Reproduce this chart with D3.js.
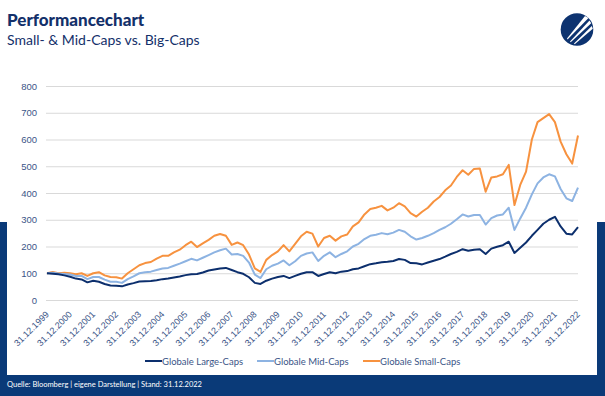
<!DOCTYPE html>
<html>
<head>
<meta charset="utf-8">
<script src="https://d3js.org/d3.v7.min.js"></script>
<style type="text/css">
    body { margin: 0; background: #fff; }
    svg { display: block; font-family: Lato, "Noto Sans", sans-serif; }
    .grid line { stroke: #d9d9d9; stroke-width: 1; }
    .axis text { fill: #3b5587; }
    .line { fill: none; stroke-width: 2px; stroke-linejoin: round; }
</style>
</head>
<body>
<svg width="605" height="396"></svg>
<script>
// tick labels on the x axis (31.12. of each year)
var tickLabels = ["31.12.1999", "31.12.2000", "31.12.2001", "31.12.2002", "31.12.2003",
    "31.12.2004", "31.12.2005", "31.12.2006", "31.12.2007", "31.12.2008", "31.12.2009",
    "31.12.2010", "31.12.2011", "31.12.2012", "31.12.2013", "31.12.2014", "31.12.2015",
    "31.12.2016", "31.12.2017", "31.12.2018", "31.12.2019", "31.12.2020", "31.12.2021",
    "31.12.2022"];
var yTicks = [0, 100, 200, 300, 400, 500, 600, 700, 800];
var seriesNames = ["Globale Large-Caps", "Globale Mid-Caps", "Globale Small-Caps"];
var seriesColors = ["#0c2f6d", "#8db3e2", "#f7923f"];

// quarter-end values, starting 31.12.1999 (=100)
var largeCaps = [100,
    98, 96, 92, 87,
    80, 77, 66, 72,
    68, 60, 54, 53,
    51, 58, 63, 69,
    70, 71, 74, 78,
    80, 84, 88, 93,
    96, 97, 103, 110,
    114, 118, 120, 112,
    104, 98, 85, 64,
    60, 72, 80, 86,
    90, 82, 90, 98,
    104, 104, 90, 97,
    104, 100, 106, 108,
    115, 118, 126, 134,
    137, 141, 143, 146,
    153, 150, 138, 137,
    133, 140, 147, 153,
    162, 172, 180, 190,
    184, 188, 190, 172,
    192, 199, 205, 218,
    176, 195, 215, 240,
    262, 285, 300, 311,
    275, 248, 245, 272];

var midCaps = [100,
    102, 99, 97, 95,
    90, 90, 78, 86,
    86, 76, 68, 68,
    64, 78, 88, 100,
    104, 106, 112, 118,
    120, 128, 136, 145,
    154, 148, 158, 168,
    178, 186, 192, 170,
    172, 165, 140, 95,
    82, 115, 128, 136,
    148, 130, 145, 165,
    174, 178, 146, 165,
    178, 160, 172, 182,
    200, 210, 228, 240,
    244, 250, 246, 252,
    262, 255, 238, 226,
    232, 240, 250, 262,
    272, 285, 302, 320,
    312, 318, 318, 282,
    306, 316, 320, 345,
    262, 305, 345, 395,
    436, 458, 470, 462,
    415, 380, 370, 420];

var smallCaps = [100,
    105, 100, 102, 100,
    96, 100, 90, 100,
    104, 92, 86, 85,
    80, 100, 115, 130,
    138, 142, 155, 165,
    165, 178, 188, 205,
    218, 198, 212, 225,
    240, 247, 240, 206,
    215, 205, 170, 118,
    105, 150, 168, 182,
    205, 182, 210, 238,
    255, 248, 200, 232,
    240, 222, 238, 245,
    275, 290, 320, 340,
    345, 352, 335, 345,
    362, 350, 325, 312,
    330, 345, 368, 385,
    410, 428, 460, 485,
    468, 490, 492, 405,
    458, 462, 470, 505,
    355, 430, 480, 600,
    665, 680, 695, 665,
    592, 545, 510, 615];

var svg = d3.select("svg");
var navy = "#0a3a78";

// frame: blue side strips and footer band
svg.append("rect").attr("x", 0).attr("y", 222).attr("width", 7).attr("height", 174).attr("fill", navy);
svg.append("rect").attr("x", 597).attr("y", 222).attr("width", 8).attr("height", 174).attr("fill", navy);
svg.append("rect").attr("x", 0).attr("y", 375).attr("width", 605).attr("height", 21).attr("fill", navy);

svg.append("text").attr("x", 7).attr("y", 387)
    .attr("fill", "#fff").style("font-size", "7.5px")
    .text("Quelle: Bloomberg | eigene Darstellung | Stand: 31.12.2022");

// title
svg.append("text").attr("x", 7).attr("y", 26)
    .attr("fill", "#13306a").style("font-size", "17px").style("font-weight", "900")
    .text("Performancechart");
svg.append("text").attr("x", 7).attr("y", 45)
    .attr("fill", "#13306a").style("font-size", "14px")
    .text("Small- & Mid-Caps vs. Big-Caps");

// logo
var logo = svg.append("g").attr("transform", "translate(577,29.5)");
logo.append("circle").attr("r", 16.3).attr("fill", "#0d3370");
logo.append("path").attr("d", "M-10,9 L8,-13.5 L11.5,-11.5 L-9.5,10 Z").attr("fill", "#fff");
logo.append("path").attr("d", "M-7,12 L12.5,-9 L14.2,-6.2 L-6.3,12.8 Z").attr("fill", "#fff");
logo.append("path").attr("d", "M-3,14 L14.8,-3.5 L15.8,-0.8 L-2.3,14.7 Z").attr("fill", "#fff");

// plot
var parseDate = d3.timeParse("%d.%m.%Y");
var tickDates = tickLabels.map(parseDate);
var dates = largeCaps.map(function(d, i) {
    return new Date(1999, 12 + 3 * i, 0);
});

var xScale = d3.scaleTime().domain([tickDates[0], tickDates[tickDates.length - 1]]).range([47, 578]);
var yScale = d3.scaleLinear().domain([0, 800]).range([300, 86]);

svg.append("g")
    .attr("class", "grid axis")
    .attr("transform", "translate(46,0)")
    .call(d3.axisLeft(yScale).tickValues(yTicks).tickSize(-532).tickPadding(9))
    .call(g => g.select(".domain").remove())
    .selectAll("text").style("font-size", "9.5px");

var xAxis = svg.append("g")
    .attr("class", "axis")
    .attr("transform", "translate(0,300)")
    .call(d3.axisBottom(xScale).tickValues(tickDates).tickSize(0)
        .tickFormat(function(d, i) { return tickLabels[i]; }));
xAxis.select(".domain").remove();
xAxis.selectAll("text")
    .attr("y", 0).attr("dy", 0)
    .attr("text-anchor", "end")
    .attr("transform", "translate(2,15) rotate(-45)")
    .style("font-size", "9px");

var allSeries = [largeCaps, midCaps, smallCaps];
var line = d3.line()
    .x(function(d, i) { return xScale(dates[i]); })
    .y(function(d) { return yScale(d); });

// draw small first so large sits on top like the original
[2, 1, 0].forEach(function(k) {
    svg.append("path")
        .datum(allSeries[k])
        .attr("class", "line")
        .attr("stroke", seriesColors[k])
        .attr("d", line);
});

// legend
var legendX = [145, 257, 363];
var legend = svg.append("g").attr("class", "axis");
seriesNames.forEach(function(name, k) {
    legend.append("line")
        .attr("x1", legendX[k]).attr("x2", legendX[k] + 17)
        .attr("y1", 361).attr("y2", 361)
        .attr("stroke", seriesColors[k]).attr("stroke-width", 2);
    legend.append("text")
        .attr("x", legendX[k] + 17).attr("y", 364.5)
        .style("font-size", "9.5px")
        .text(name);
});
</script>
</body>
</html>
